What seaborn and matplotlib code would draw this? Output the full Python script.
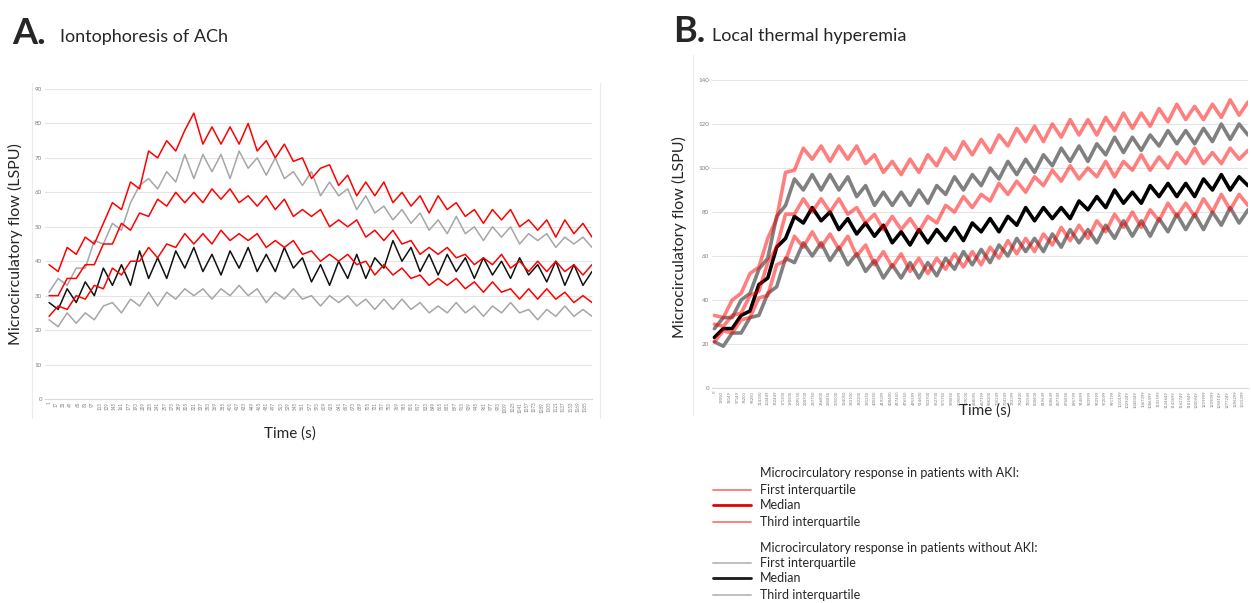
import numpy as np
import seaborn as sns
import matplotlib.pyplot as plt
from matplotlib.lines import Line2D

# ---- panel A: iontophoresis of ACh (61 samples) ----
a_time = np.linspace(1, 1200, 61)
a_aki_q3 = [39, 37, 44, 42, 47, 45, 51, 57, 55, 63, 61, 72, 70, 75, 72, 78, 83, 74, 79, 74,
            79, 74, 80, 72, 75, 70, 74, 69, 70, 64, 67, 68, 62, 65, 59, 63, 59, 63, 57, 60,
            56, 59, 54, 59, 55, 57, 53, 55, 51, 55, 52, 55, 50, 52, 49, 52, 47, 52, 48, 51, 47]
a_aki_med = [30, 30, 35, 35, 39, 39, 45, 45, 51, 49, 54, 53, 58, 56, 60, 57, 60, 57, 61, 58,
             61, 57, 59, 56, 59, 55, 58, 53, 55, 53, 55, 50, 52, 50, 52, 47, 49, 46, 49, 45,
             46, 42, 44, 42, 44, 41, 42, 39, 41, 39, 42, 38, 40, 37, 40, 37, 40, 37, 39, 36, 39]
a_aki_q1 = [24, 27, 26, 30, 29, 33, 32, 38, 36, 40, 40, 44, 41, 45, 44, 48, 45, 48, 45, 49,
            46, 48, 46, 48, 44, 46, 44, 46, 42, 43, 40, 42, 40, 42, 39, 40, 36, 39, 36, 38,
            35, 36, 33, 35, 33, 35, 32, 34, 31, 34, 31, 32, 29, 32, 29, 32, 29, 31, 28, 30, 28]
a_non_q3 = [31, 35, 33, 38, 38, 46, 45, 51, 49, 57, 62, 64, 61, 66, 63, 71, 64, 71, 66, 71,
            64, 72, 67, 70, 65, 70, 64, 66, 62, 66, 59, 63, 59, 61, 55, 59, 54, 56, 52, 55,
            51, 54, 49, 52, 48, 53, 48, 50, 46, 50, 47, 50, 45, 48, 46, 48, 44, 47, 45, 47, 44]
a_non_med = [28, 26, 32, 28, 34, 30, 38, 33, 39, 33, 43, 35, 41, 35, 43, 38, 44, 37, 42, 36,
             43, 38, 44, 37, 42, 37, 44, 38, 41, 34, 39, 33, 40, 35, 42, 35, 41, 38, 46, 40,
             44, 37, 42, 36, 42, 37, 41, 35, 41, 36, 40, 35, 41, 36, 39, 34, 40, 33, 39, 33, 37]
a_non_q1 = [23, 21, 25, 22, 25, 23, 27, 28, 25, 29, 27, 31, 27, 31, 29, 32, 30, 32, 29, 32,
            30, 33, 30, 32, 28, 31, 29, 32, 29, 30, 27, 30, 28, 30, 27, 29, 26, 29, 26, 29,
            26, 28, 25, 27, 25, 28, 25, 27, 24, 27, 25, 28, 25, 26, 23, 26, 24, 27, 24, 26, 24]
a_yticks = [0, 10, 20, 30, 40, 50, 60, 70, 80, 90]
a_xticks = list(range(1, 1186, 16))

# ---- panel B: local thermal hyperemia (61 samples) ----
b_time = np.linspace(0, 1328000, 61)
b_aki_q3 = [33, 32, 40, 43, 52, 55, 68, 77, 98, 99, 109, 104, 110, 103, 110, 104, 110, 102, 106, 98,
            103, 97, 104, 98, 106, 101, 109, 104, 112, 106, 113, 107, 115, 110, 118, 112, 119, 112, 120, 114,
            122, 115, 122, 115, 123, 117, 125, 118, 125, 119, 127, 121, 129, 122, 128, 122, 129, 123, 131, 124, 130]
b_aki_med = [29, 28, 33, 34, 42, 44, 57, 64, 79, 79, 86, 80, 86, 80, 86, 79, 82, 75, 79, 72,
             78, 72, 77, 71, 78, 75, 83, 80, 87, 82, 88, 85, 93, 88, 94, 89, 96, 92, 99, 94,
             101, 95, 100, 96, 103, 96, 103, 99, 106, 99, 105, 100, 107, 102, 109, 102, 107, 102, 109, 104, 108]
b_aki_q1 = [21, 26, 25, 31, 32, 41, 42, 56, 58, 69, 64, 71, 64, 70, 63, 69, 60, 65, 56, 62,
            55, 61, 53, 59, 52, 59, 54, 61, 55, 62, 56, 64, 59, 67, 61, 68, 62, 70, 65, 73,
            67, 74, 68, 76, 71, 79, 73, 80, 73, 81, 76, 84, 78, 84, 78, 86, 80, 88, 81, 88, 83]
b_non_q3 = [27, 32, 32, 40, 43, 54, 59, 78, 83, 95, 90, 97, 90, 97, 90, 96, 87, 92, 83, 89,
            83, 89, 83, 90, 84, 92, 88, 96, 90, 97, 92, 100, 95, 103, 97, 104, 98, 106, 101, 109,
            103, 110, 103, 111, 106, 114, 107, 114, 108, 115, 110, 117, 111, 117, 111, 118, 112, 120, 113, 120, 115]
b_non_med = [23, 27, 27, 33, 35, 47, 50, 64, 68, 78, 75, 82, 76, 80, 72, 77, 70, 75, 69, 74,
             66, 71, 65, 72, 66, 72, 67, 73, 67, 75, 71, 77, 71, 78, 74, 82, 76, 82, 77, 82,
             77, 85, 81, 87, 82, 90, 84, 89, 84, 92, 87, 93, 87, 93, 87, 95, 90, 97, 90, 96, 92]
b_non_q1 = [21, 19, 25, 25, 32, 33, 43, 46, 59, 57, 66, 60, 66, 58, 64, 56, 61, 53, 58, 50,
            56, 50, 57, 50, 57, 51, 59, 54, 62, 56, 63, 57, 65, 60, 68, 62, 68, 62, 70, 64,
            72, 66, 72, 66, 74, 68, 76, 69, 76, 69, 77, 71, 79, 72, 79, 72, 80, 74, 82, 75, 81]
b_yticks = [0, 20, 40, 60, 80, 100, 120, 140]
b_xticks = [0, 19050, 38149, 57149, 76200, 95250, 114300, 133449, 152449, 171300,
            190500, 209550, 228700, 247750, 266800, 285850, 305000, 324050, 343100, 362200,
            381250, 400250, 419399, 438400, 457450, 476550, 495599, 514600, 533700, 552700,
            571750, 590850, 609899, 629000, 648095, 667199, 686200, 705349, 724349, 743399,
            762400, 781549, 800600, 819649, 838649, 857749, 876850, 895799, 914899, 933999,
            952999, 972099, 991199, 1010199, 1029249, 1048349, 1067399, 1086499, 1105599, 1124649,
            1143699, 1162749, 1181849, 1200949, 1219999, 1239099, 1258149, 1277249, 1296299, 1315399]

legend_groups = ["Microcirculatory response in patients with AKI:",
                 "Microcirculatory response in patients without AKI:"]
legend_rows = ["First interquartile", "Median", "Third interquartile"]

sns.set_style("white")
plt.rcParams['font.family'] = ['Lato', 'DejaVu Sans']

W, H = 1251, 603
fig = plt.figure(figsize=(W / 100, H / 100), dpi=100)


def fx(x):
    return x / W


def fy(y):
    return 1 - y / H


axA = fig.add_axes([fx(45), fy(399), 547 / W, 310 / H])
axB = fig.add_axes([fx(712), fy(388), 536 / W, 308 / H])

# panel A lines: grey/black first, red on top
for vals, col in [(a_non_q1, '#a6a6a6'), (a_non_q3, '#a6a6a6'), (a_non_med, '#111111'),
                  (a_aki_q1, '#ff0000'), (a_aki_med, '#ff0000'), (a_aki_q3, '#ff0000')]:
    sns.lineplot(x=a_time, y=vals, ax=axA, color=col, lw=1.1, estimator=None, legend=False)

# panel B lines: translucent red drawn over grey/black
for vals, col, al in [(b_non_q1, '#808080', 1.0), (b_non_q3, '#808080', 1.0),
                      (b_non_med, '#000000', 1.0), (b_aki_q1, '#ff0000', 0.5),
                      (b_aki_med, '#ff0000', 0.5), (b_aki_q3, '#ff0000', 0.5)]:
    sns.lineplot(x=b_time, y=vals, ax=axB, color=col, lw=2.6, alpha=al, estimator=None, legend=False)

for ax, yt, xt, xl, yl, xfs in [(axA, a_yticks, a_xticks, (-8, 1200), (0, 90), 3.3),
                                (axB, b_yticks, b_xticks, (-6000, 1328000), (0, 140), 3.0)]:
    ax.set_xlim(*xl)
    ax.set_ylim(*yl)
    ax.set_yticks(yt)
    ax.set_yticklabels([str(v) for v in yt], fontsize=4.5, color='#7f7f7f')
    ax.set_xticks(xt)
    ax.set_xticklabels([str(v) for v in xt], rotation=90, fontsize=xfs, color='#7f7f7f')
    ax.tick_params(length=0, pad=2)
    ax.grid(axis='y', color='#e4e4e4', lw=0.8)
    ax.set_axisbelow(True)
    for s in ['top', 'right', 'left']:
        ax.spines[s].set_visible(False)
    ax.spines['bottom'].set_color('#d9d9d9')
    ax.set_xlabel("Time (s)", fontsize=11)
    ax.set_ylabel("Microcirculatory flow (LSPU)", fontsize=11.5)

axA.xaxis.set_label_coords(0.448, -0.087)
axA.yaxis.set_label_coords(-0.04, 0.5)
axB.xaxis.set_label_coords(0.51, -0.05)
axB.yaxis.set_label_coords(-0.047, 0.49)

# faint chart-area frames
for x0, y0, y1 in [(32, 83, 418), (600, 83, 418), (693, 55, 415)]:
    fig.add_artist(Line2D([fx(x0), fx(x0)], [fy(y0), fy(y1)], color='#ececec', lw=0.8))

# panel titles
fig.text(fx(12), fy(34), "A.", fontsize=26, fontweight='bold', va='center')
fig.text(fx(60), fy(37), "Iontophoresis of ACh", fontsize=13, va='center')
fig.text(fx(673), fy(31), "B.", fontsize=26, fontweight='bold', va='center')
fig.text(fx(712), fy(36), "Local thermal hyperemia", fontsize=13, va='center')

# legend below panel B
leg_styles = [[('#ff8080', 1.4), ('#e60000', 2.0), ('#ff8080', 1.4)],
              [('#bfbfbf', 1.4), ('#1a1a1a', 2.0), ('#bfbfbf', 1.4)]]
leg_y = [[473, 490, 505, 522], [548, 563, 578, 595]]
for g in range(2):
    fig.text(fx(760), fy(leg_y[g][0]), legend_groups[g], fontsize=9, va='center')
    for r in range(3):
        y = leg_y[g][r + 1]
        col, lw = leg_styles[g][r]
        fig.add_artist(Line2D([fx(713), fx(751)], [fy(y), fy(y)], color=col, lw=lw))
        fig.text(fx(760), fy(y), legend_rows[r], fontsize=9, va='center')

fig.savefig("out.png", dpi=100)
